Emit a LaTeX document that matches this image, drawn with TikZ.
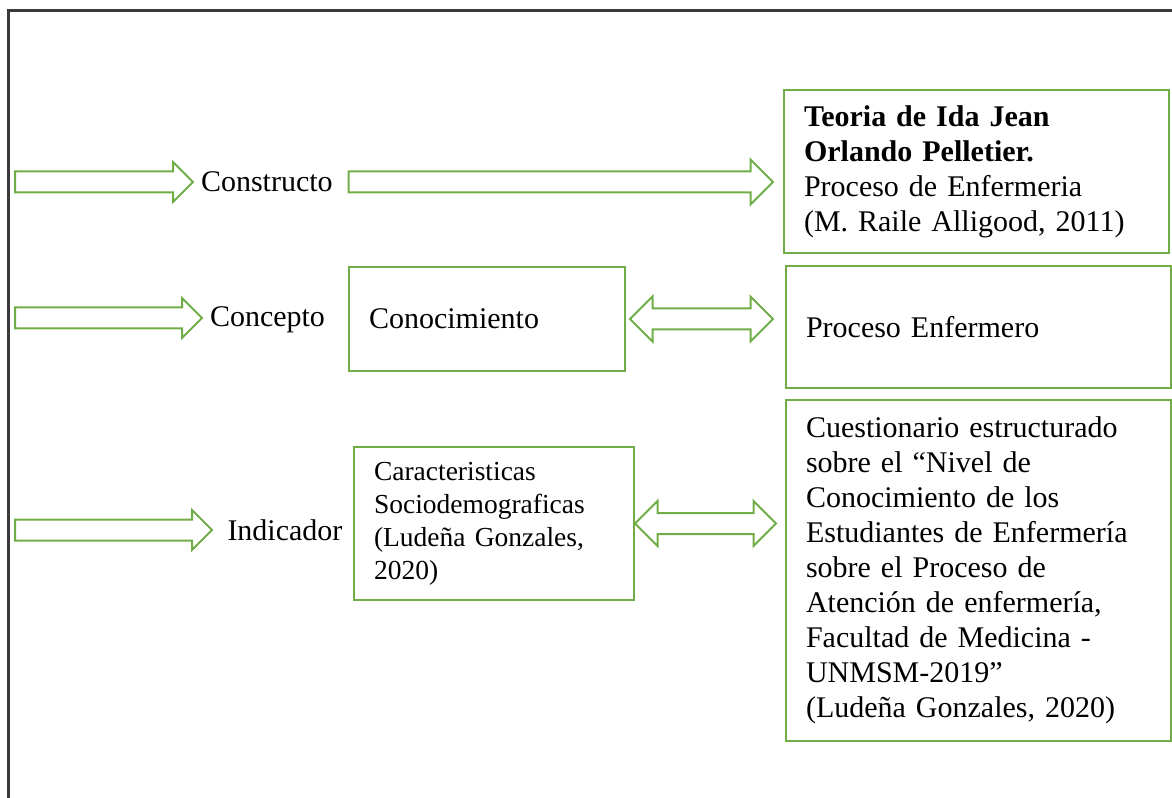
\documentclass[tikz,border=0pt]{standalone}
\usepackage{fontspec}
\setmainfont{Liberation Serif}
\usetikzlibrary{calc}
\definecolor{boxgreen}{HTML}{70AD47}
\definecolor{framegray}{HTML}{3A3A3A}

\begin{document}
\begin{tikzpicture}[x=0.4pt, y=-0.4pt,
    box/.style={draw=boxgreen, line width=0.8pt, anchor=north west, align=left, inner xsep=8pt,
      font=\fontsize{12}{14}\selectfont},
    lbl/.style={anchor=west, inner sep=3pt, font=\fontsize{12}{14}\selectfont},
    arrowline/.style={draw=boxgreen, line width=0.8pt},
    blockarrow/.style={to path={let \p1=(\tikztostart), \p2=(\tikztotarget) in
      (\x1,\y1+4.2pt) -- (\x2-#1,\y1+4.2pt) -- (\x2-#1,\y1+#1) -- (\x2,\y1)
      -- (\x2-#1,\y1-#1) -- (\x2-#1,\y1-4.2pt) -- (\x1,\y1-4.2pt) -- cycle}},
    blockarrow/.default=8pt,
    dblarrow/.style={to path={let \p1=(\tikztostart), \p2=(\tikztotarget) in
      (\x1,\y1) -- (\x1+#1,\y1+#1) -- (\x1+#1,\y1+4.2pt) -- (\x2-#1,\y1+4.2pt)
      -- (\x2-#1,\y1+#1) -- (\x2,\y1) -- (\x2-#1,\y1-#1) -- (\x2-#1,\y1-4.2pt)
      -- (\x1+#1,\y1-4.2pt) -- (\x1+#1,\y1-#1) -- cycle}},
    dblarrow/.default=9pt]
  \useasboundingbox (0,0) rectangle (1172,798);
  % frame
  \draw[framegray, line width=1.2pt] (8,798) |- (1172,11);

  % labels on the left
  \node[lbl] (constructo) at (193,182) {Constructo};
  \node[lbl] (concepto) at (202,320) {Concepto};
  \node[lbl, inner xsep=6pt] (indicador) at (212,530) {Indicador};

  % middle boxes
  \node[box, text width=94.4pt, minimum height=41.6pt] (conoc) at (348,266) {Conocimiento};
  \node[box, text width=96pt, minimum height=61.2pt, font=\fontsize{11}{13.2}\selectfont] (caract) at (353,446)
    {Caracteristicas\\ Sociodemograficas\\ (Ludeña Gonzales,\\ 2020)};

  % right boxes
  \node[box, text width=138pt, minimum height=65.2pt] (teoria) at (783,89)
    {\textbf{Teoria de Ida Jean}\\ \textbf{Orlando Pelletier.}\\ Proceso de Enfermeria\\ (M. Raile Alligood, 2011)};
  \node[box, text width=138pt, minimum height=48.8pt] (procenf) at (785,265) {Proceso Enfermero};
  \node[box, text width=138pt, minimum height=136.4pt] (cuest) at (785,399)
    {Cuestionario estructurado\\ sobre el “Nivel de\\ Conocimiento de los\\ Estudiantes de Enfermería\\
     sobre el Proceso de\\ Atención de enfermería,\\ Facultad de Medicina -\\ UNMSM-2019”\\
     (Ludeña Gonzales, 2020)};

  % arrows
  \coordinate (in1) at (15,182);
  \coordinate (in2) at (15,318);
  \coordinate (in3) at (15,530);
  \draw[arrowline] (in1) to[blockarrow] (constructo.west);
  \draw[arrowline] (in2) to[blockarrow] (concepto.west);
  \draw[arrowline] (in3) to[blockarrow] (indicador.west);
  \draw[arrowline] ([xshift=3.2pt]constructo.east) to[blockarrow=9pt] ([xshift=-4pt]teoria.west);
  \draw[arrowline] ([xshift=1.6pt]conoc.east) to[dblarrow] ([xshift=-4.8pt]procenf.west);
  \draw[arrowline] (caract.east) to[dblarrow] ([xshift=-3.6pt]cuest.west);
\end{tikzpicture}
\end{document}
